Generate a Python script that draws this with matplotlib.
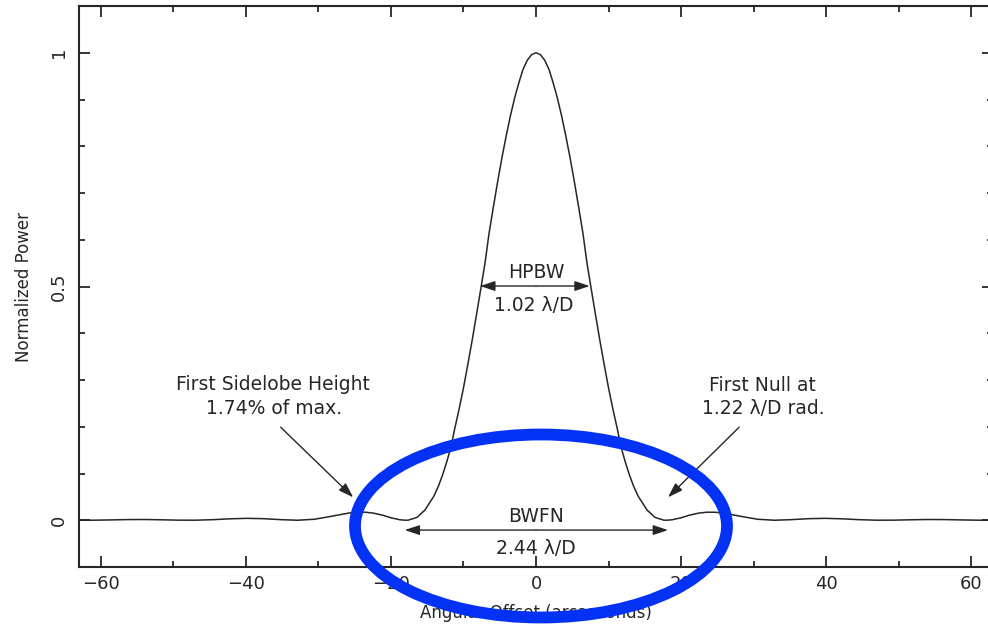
import numpy as np
import matplotlib
matplotlib.use("Agg")
import matplotlib.pyplot as plt
from matplotlib.patches import Ellipse
from matplotlib.ticker import MultipleLocator

# Beam profile (one half; the pattern is symmetric)
offset_half = [0.0, 0.6, 1.2, 1.8, 2.3, 2.9, 3.5, 4.1, 4.7, 5.3, 5.9, 6.5,
               7.0, 7.6, 8.2, 8.8, 9.4, 10.0, 10.6, 11.2, 11.7, 12.3, 12.9,
               13.5, 14.1, 15.3, 16.4, 17.6, 18.0, 18.8, 20.0, 21.1, 22.3,
               23.5, 24.7, 25.8, 28.2, 30.5, 32.9, 35.2, 37.6, 39.9, 42.3,
               44.6, 47.0, 49.3, 51.7, 54.0, 56.4, 58.7, 61.1, 63.4]
power_half = [1.0, 0.996, 0.984, 0.964, 0.939, 0.906, 0.867, 0.823, 0.775,
              0.723, 0.668, 0.611, 0.553, 0.496, 0.440, 0.385, 0.333, 0.283,
              0.238, 0.196, 0.158, 0.125, 0.096, 0.071, 0.051, 0.022, 0.0062,
              0.0003, 0.0, 0.0011, 0.0053, 0.0106, 0.0149, 0.0172, 0.0171,
              0.0154, 0.0085, 0.0022, 0.0, 0.0013, 0.0034, 0.0041, 0.0030,
              0.0012, 0.0001, 0.0002, 0.0010, 0.0016, 0.0014, 0.0007, 0.0001,
              0.0]

offset = np.concatenate([-np.array(offset_half[:0:-1]), offset_half])
power = np.concatenate([np.array(power_half[:0:-1]), power_half])

xticks = [-60, -40, -20, 0, 20, 40, 60]
yticks = [0, 0.5, 1]
ytick_labels = ["0", "0.5", "1"]

ink = "#262626"

fig = plt.figure(figsize=(9.88, 6.27), dpi=100)
ax = fig.add_axes([79 / 988, 60 / 627, 914 / 988, 561 / 627])

ax.plot(offset, power, color=ink, lw=1.1)
ax.set_xlim(-63, 63)
ax.set_ylim(-0.1, 1.1)

ax.set_xticks(xticks)
ax.set_yticks(yticks)
ax.set_yticklabels(ytick_labels, rotation=90, va="center")
ax.xaxis.set_minor_locator(MultipleLocator(10))
ax.yaxis.set_minor_locator(MultipleLocator(0.1))
ax.tick_params(which="both", direction="in", top=True, right=True,
               color=ink, width=1.3, labelcolor=ink, labelsize=13)
ax.tick_params(which="major", length=8)
ax.tick_params(which="minor", length=4)
ax.tick_params(axis="x", pad=6)
ax.tick_params(axis="y", pad=8)
for s in ax.spines.values():
    s.set_color(ink)
    s.set_linewidth(1.5)

ax.set_xlabel("Angular Offset (arcseconds)", fontsize=12, color=ink, labelpad=8)
ax.set_ylabel("Normalized Power", fontsize=12, color=ink, labelpad=12)

txt = dict(fontsize=13.5, color=ink, ha="center", va="center")
arr = dict(arrowstyle="-|>,head_length=0.9,head_width=0.3", color=ink,
           lw=1.0, shrinkA=0, shrinkB=0)

# HPBW
ax.text(0, 0.531, "HPBW", **txt)
ax.text(-0.3, 0.460, "1.02 λ/D", **txt)
ax.annotate("", xy=(-7.7, 0.501), xytext=(0, 0.501), arrowprops=arr)
ax.annotate("", xy=(7.4, 0.501), xytext=(0, 0.501), arrowprops=arr)

# BWFN
ax.text(0, 0.009, "BWFN", **txt)
ax.text(0, -0.060, "2.44 λ/D", **txt)
ax.annotate("", xy=(-18.1, -0.021), xytext=(0, -0.021), arrowprops=arr)
ax.annotate("", xy=(18.2, -0.021), xytext=(0, -0.021), arrowprops=arr)

# sidelobe
ax.text(-36.2, 0.291, "First Sidelobe Height", **txt)
ax.text(-36.1, 0.240, "1.74% of max.", **txt)
ax.annotate("", xy=(-25.2, 0.049), xytext=(-35.2, 0.199), arrowprops=arr)

# first null
ax.text(31.2, 0.289, "First Null at", **txt)
ax.text(31.4, 0.240, "1.22 λ/D rad.", **txt)
ax.annotate("", xy=(18.2, 0.049), xytext=(28.0, 0.199), arrowprops=arr)

# blue ellipse drawn on top
fig.add_artist(Ellipse((541 / 988, 1 - 526 / 627), 372 / 988, 183 / 627,
                       transform=fig.transFigure, fill=False,
                       edgecolor="#0432f4", lw=8.5, zorder=10))

fig.savefig("out.png", dpi=100)
